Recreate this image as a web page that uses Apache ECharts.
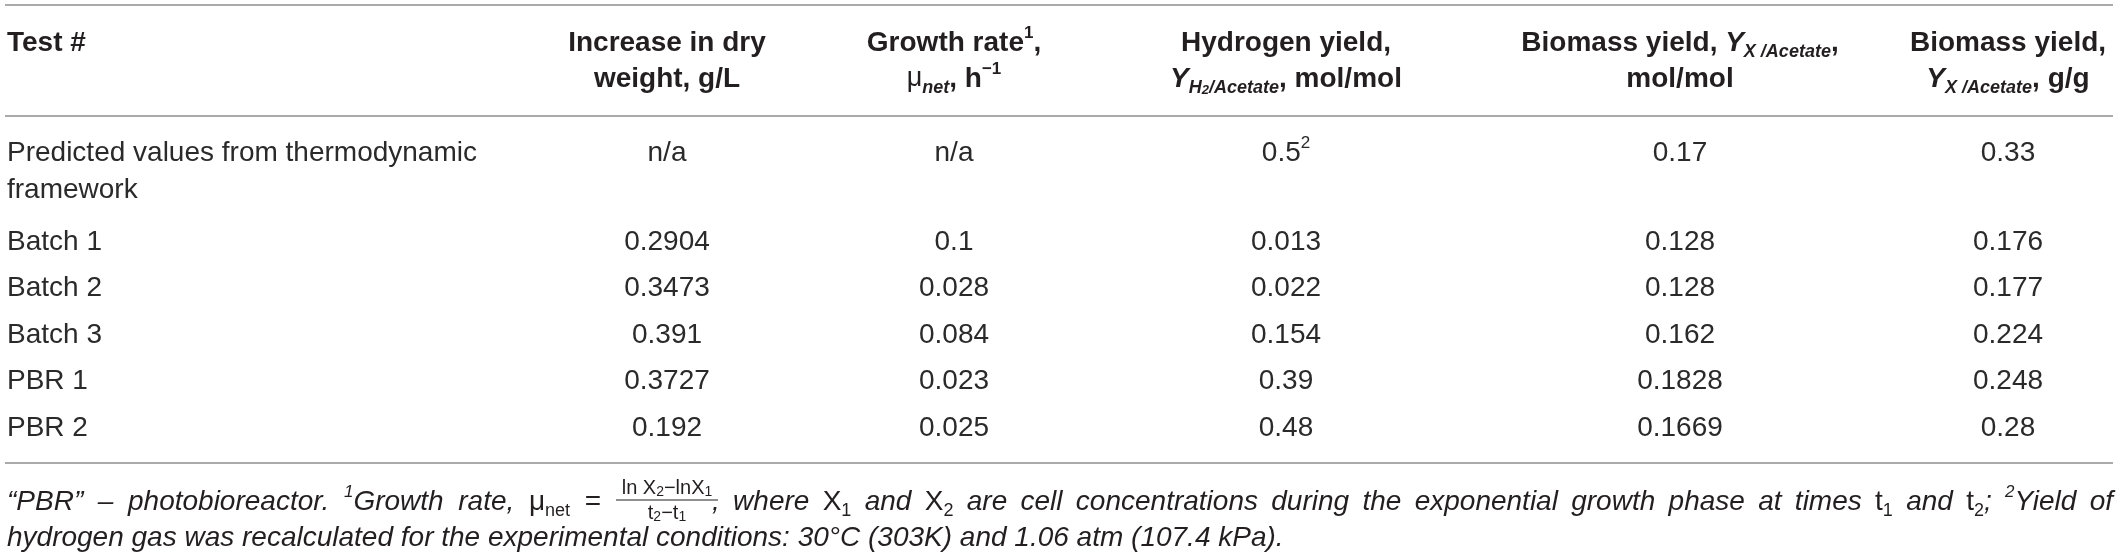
<!DOCTYPE html>
<html>
<head>
<meta charset="utf-8">
<script src="https://cdn.jsdelivr.net/npm/echarts@6/dist/echarts.min.js"></script>
<style>
html, body { margin: 0; padding: 0; background: #ffffff; }
#chart { width: 2121px; height: 558px; }
</style>
</head>
<body>
<div id="chart"></div>
<script>
// ---------------- DATA ----------------
const testNames = ['Predicted values from thermodynamic framework', 'Batch 1', 'Batch 2', 'Batch 3', 'PBR 1', 'PBR 2'];
const increaseDryWeight = ['n/a', 0.2904, 0.3473, 0.391, 0.3727, 0.192];
const growthRate = ['n/a', 0.1, 0.028, 0.084, 0.023, 0.025];
const hydrogenYield = [0.5, 0.013, 0.022, 0.154, 0.39, 0.48];
const hydrogenYieldNote = ['2', '', '', '', '', ''];
const biomassYieldMol = [0.17, 0.128, 0.128, 0.162, 0.1828, 0.1669];
const biomassYieldG = [0.33, 0.176, 0.177, 0.224, 0.248, 0.28];

const headerTest = 'Test #';
const headerIncrease = 'Increase in dry\nweight, g/L';
const headerGrowth = 'Growth rate{sup|1},\n{mu|μ}{subi|net}, h{sup|−1}';
const headerHydrogen = 'Hydrogen yield,\n{yi|Y}{subi|H}{subsub|2}{subi|/Acetate}, mol/mol';
const headerBiomassMol = 'Biomass yield, {yi|Y}{subi|X /Acetate},\nmol/mol';
const headerBiomassG = 'Biomass yield,\n{yi|Y}{subi|X /Acetate}, g/g';

const footLine1Left = '“PBR” – photobioreactor. {sup|1}Growth rate, {up|μ}{upsub|net} {up|=}';
const fracNumerator = 'ln X{s|2}−lnX{s|1}';
const fracDenominator = 't{s|2}−t{s|1}';
const footLine1Right = ', where {up|X}{upsub|1} and {up|X}{upsub|2} are cell concentrations during the exponential growth phase at times {up|t}{upsub|1} and {up|t}{upsub|2}; {sup|2}Yield of';
const footLine2 = 'hydrogen gas was recalculated for the experimental conditions: 30°C (303K) and 1.06 atm (107.4 kPa).';

// ---------------- LAYOUT (positions & styles) ----------------
const FONT = '"Liberation Sans", Arial, Helvetica, sans-serif';
const INK = '#231f20';
const BODY_INK = '#2a2a2a';
const RULE = '#8e8e8e';
const colX = [7, 667, 954, 1286, 1680, 2008];
const colAlign = ['left', 'center', 'center', 'center', 'center', 'center'];
const rowSlot = [0.586, 2.5, 3.5, 4.5, 5.5, 6.5];
const columns = [testNames, increaseDryWeight, growthRate, hydrogenYield, biomassYieldMol, biomassYieldG];
const FOOT_SIZE = 28;

const bodyRich = {
  sup: { fontSize: 17, fontFamily: FONT, fill: BODY_INK, verticalAlign: 'top', lineHeight: 14 }
};

function cellText(c, r) {
  const v = columns[c][r];
  let s = String(v);
  if (c === 3 && hydrogenYieldNote[r]) s += '{sup|' + hydrogenYieldNote[r] + '}';
  return s;
}

const cells = [];
for (let r = 0; r < testNames.length; r++) {
  for (let c = 0; c < columns.length; c++) cells.push([c, r]);
}

const hdrRich = {
  sup: { fontSize: 17, fontWeight: 'bold', fontFamily: FONT, fill: INK, verticalAlign: 'top', lineHeight: 20 },
  mu: { fontSize: 27, fontWeight: 'normal', fontFamily: FONT, fill: INK },
  yi: { fontSize: 28, fontWeight: 'bold', fontStyle: 'italic', fontFamily: FONT, fill: INK },
  subi: { fontSize: 18, fontWeight: 'bold', fontStyle: 'italic', fontFamily: FONT, fill: INK, verticalAlign: 'bottom', lineHeight: 17 },
  subsub: { fontSize: 13, fontWeight: 'bold', fontStyle: 'italic', fontFamily: FONT, fill: INK, verticalAlign: 'bottom', lineHeight: 2 }
};

function headerText(x, text, align) {
  return {
    type: 'text', x: x, y: 25, silent: true,
    style: {
      text: text, rich: hdrRich, fontSize: 28, fontWeight: 'bold', fontFamily: FONT, fill: INK,
      align: align, verticalAlign: 'top', lineHeight: 36
    }
  };
}

const footBase = { fontSize: FOOT_SIZE, fontStyle: 'italic', fontWeight: 'normal', fontFamily: FONT };
const footRich = {
  sup: { fontSize: 17, fontStyle: 'italic', fontFamily: FONT, fill: INK, verticalAlign: 'top', lineHeight: 20 },
  up: { fontSize: FOOT_SIZE, fontStyle: 'normal', fontFamily: FONT, fill: INK },
  upsub: { fontSize: 18, fontStyle: 'normal', fontFamily: FONT, fill: INK, verticalAlign: 'bottom', lineHeight: 22 }
};
const fracRich = {
  s: { fontSize: 14, fontFamily: FONT, fill: INK, verticalAlign: 'bottom', lineHeight: 10 }
};

// text measuring for justified footnote line
const mctx = document.createElement('canvas').getContext('2d');
function fontStr(st) {
  return (st.fontStyle || 'normal') + ' ' + (st.fontWeight || 'normal') + ' ' + st.fontSize + 'px ' + (st.fontFamily || 'sans-serif');
}
function richWidth(str, base, rich) {
  let w = 0, last = 0, m;
  const re = /\{(\w+)\|([^}]*)\}/g;
  while ((m = re.exec(str))) {
    if (m.index > last) { mctx.font = fontStr(base); w += mctx.measureText(str.slice(last, m.index)).width; }
    mctx.font = fontStr(rich[m[1]]); w += mctx.measureText(m[2]).width;
    last = re.lastIndex;
  }
  if (last < str.length) { mctx.font = fontStr(base); w += mctx.measureText(str.slice(last)).width; }
  return w;
}
function footText(x, y, text, align) {
  return {
    type: 'text', x: x, y: y, silent: true,
    style: {
      text: text, rich: footRich, fontSize: FOOT_SIZE, fontStyle: 'italic', fontFamily: FONT, fill: INK,
      align: align, verticalAlign: 'middle', lineHeight: 36
    }
  };
}
function justified(str, x0, x1, y) {
  const words = str.split(' ');
  const widths = words.map(w => richWidth(w, footBase, footRich));
  const total = widths.reduce((a, b) => a + b, 0);
  const gap = words.length > 1 ? (x1 - x0 - total) / (words.length - 1) : 0;
  const out = [];
  let x = x0;
  words.forEach((w, i) => { out.push(footText(x, y, w, 'left')); x += widths[i] + gap; });
  return out;
}

function rule(y) {
  return { type: 'line', silent: true, shape: { x1: 5, y1: y, x2: 2113, y2: y }, style: { stroke: RULE, lineWidth: 1.6 } };
}

const chart = echarts.init(document.getElementById('chart'), null, { renderer: 'canvas' });

function build() {
  const elements = [
    rule(5), rule(116), rule(463),
    headerText(colX[0], headerTest, 'left'),
    headerText(colX[1], headerIncrease, 'center'),
    headerText(colX[2], headerGrowth, 'center'),
    headerText(colX[3], headerHydrogen, 'center'),
    headerText(colX[4], headerBiomassMol, 'center'),
    headerText(colX[5], headerBiomassG, 'center'),
    { type: 'text', x: 667, y: 488, silent: true,
      style: { text: fracNumerator, rich: fracRich, fontSize: 20, fontFamily: FONT, fill: INK, align: 'center', verticalAlign: 'middle', lineHeight: 22 } },
    { type: 'line', silent: true, shape: { x1: 616, y1: 500, x2: 718, y2: 500 }, style: { stroke: INK, lineWidth: 1 } },
    { type: 'text', x: 667, y: 513, silent: true,
      style: { text: fracDenominator, rich: fracRich, fontSize: 20, fontFamily: FONT, fill: INK, align: 'center', verticalAlign: 'middle', lineHeight: 22 } },
    footText(7, 538, footLine2, 'left')
  ].concat(justified(footLine1Left, 7, 601, 502), justified(footLine1Right, 712, 2113, 502));

  chart.setOption({
    backgroundColor: '#ffffff',
    animation: false,
    grid: { left: 0, right: 0, top: 125.75, height: 325.5, containLabel: false },
    xAxis: { type: 'value', min: 0, max: 2121, show: false },
    yAxis: { type: 'value', min: 0, max: 7, inverse: true, show: false },
    series: [{
      type: 'custom',
      coordinateSystem: 'cartesian2d',
      data: cells,
      silent: true,
      renderItem: function (params, api) {
        const c = api.value(0), r = api.value(1);
        const p = api.coord([colX[c], rowSlot[r]]);
        const multi = (c === 0 && r === 0);
        return {
          type: 'text',
          x: p[0],
          y: multi ? p[1] - 18.5 : p[1],
          style: {
            text: cellText(c, r),
            rich: bodyRich,
            fontSize: 28,
            fontFamily: FONT,
            fill: BODY_INK,
            align: colAlign[c],
            verticalAlign: multi ? 'top' : 'middle',
            lineHeight: 37,
            width: multi ? 490 : undefined,
            overflow: multi ? 'break' : undefined
          }
        };
      }
    }],
    graphic: { elements: elements }
  });
}

if (document.fonts && document.fonts.load) {
  Promise.all([
    document.fonts.load('italic 28px "Liberation Sans"'),
    document.fonts.load('28px "Liberation Sans"'),
    document.fonts.load('bold 28px "Liberation Sans"')
  ]).then(build, build);
} else {
  build();
}
</script>
</body>
</html>
